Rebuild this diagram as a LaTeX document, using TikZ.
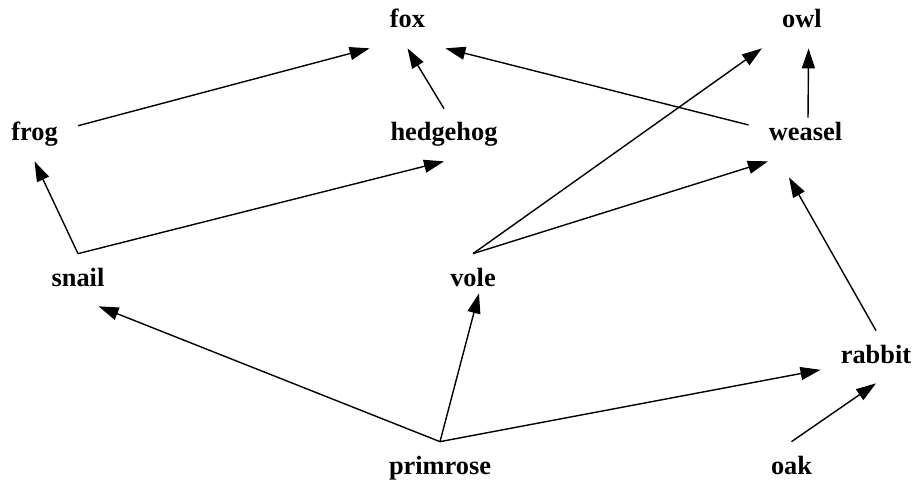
\documentclass[tikz,border=0pt]{standalone}
\usepackage{fontspec}
\setmainfont{Liberation Serif}
\usetikzlibrary{arrows.meta}

\begin{document}
\begin{tikzpicture}[
    font=\fontsize{15}{18}\selectfont\bfseries,
    animal/.style={anchor=base, inner xsep=0.4cm, inner ysep=0.28cm, text height=0.36cm, text depth=0.12cm},
    feeds/.style={-{Triangle[length=0.4cm, width=0.26cm]}, line width=0.8pt}]
      \useasboundingbox (0,0) rectangle (18.28,-9.62);

      \node[animal] (fox) at (8.15, -0.56) {fox};
      \node[animal] (owl) at (16.04, -0.56) {owl};
      \node[animal] (frog) at (0.69, -2.82) {frog};
      \node[animal] (hedgehog) at (8.88, -2.82) {hedgehog};
      \node[animal] (weasel) at (16.11, -2.82) {weasel};
      \node[animal] (snail) at (1.56, -5.72) {snail};
      \node[animal] (vole) at (9.46, -5.72) {vole};
      \node[animal] (rabbit) at (17.52, -7.26) {rabbit};
      \node[animal] (primrose) at (8.80, -9.48) {primrose};
      \node[animal] (oak) at (15.83, -9.48) {oak};

      \draw[feeds] (frog.12) -- (fox.south west);
      \draw[feeds] (hedgehog.north) -- (fox.south);
      \draw[feeds] (weasel.170) -- (fox.south east);
      \draw[feeds] ([xshift=0.05cm, yshift=-0.18cm]weasel.north) -- (owl.284);
      \draw[feeds] (vole.north) -- (owl.south west);
      \draw[feeds] (vole.north) -- (weasel.215);
      \draw[feeds] (rabbit.north) -- ([xshift=-0.33cm, yshift=-0.32cm]weasel.south);
      \draw[feeds] (snail.north) -- (frog.south);
      \draw[feeds] (snail.north) -- (hedgehog.south);
      \draw[feeds] (primrose.north) -- (snail.308);
      \draw[feeds] (primrose.north) -- ([xshift=0.12cm, yshift=0.26cm]vole.south);
      \draw[feeds] (primrose.north) -- (rabbit.193);
      \draw[feeds] (oak.north) -- (rabbit.south);
\end{tikzpicture}
\end{document}
